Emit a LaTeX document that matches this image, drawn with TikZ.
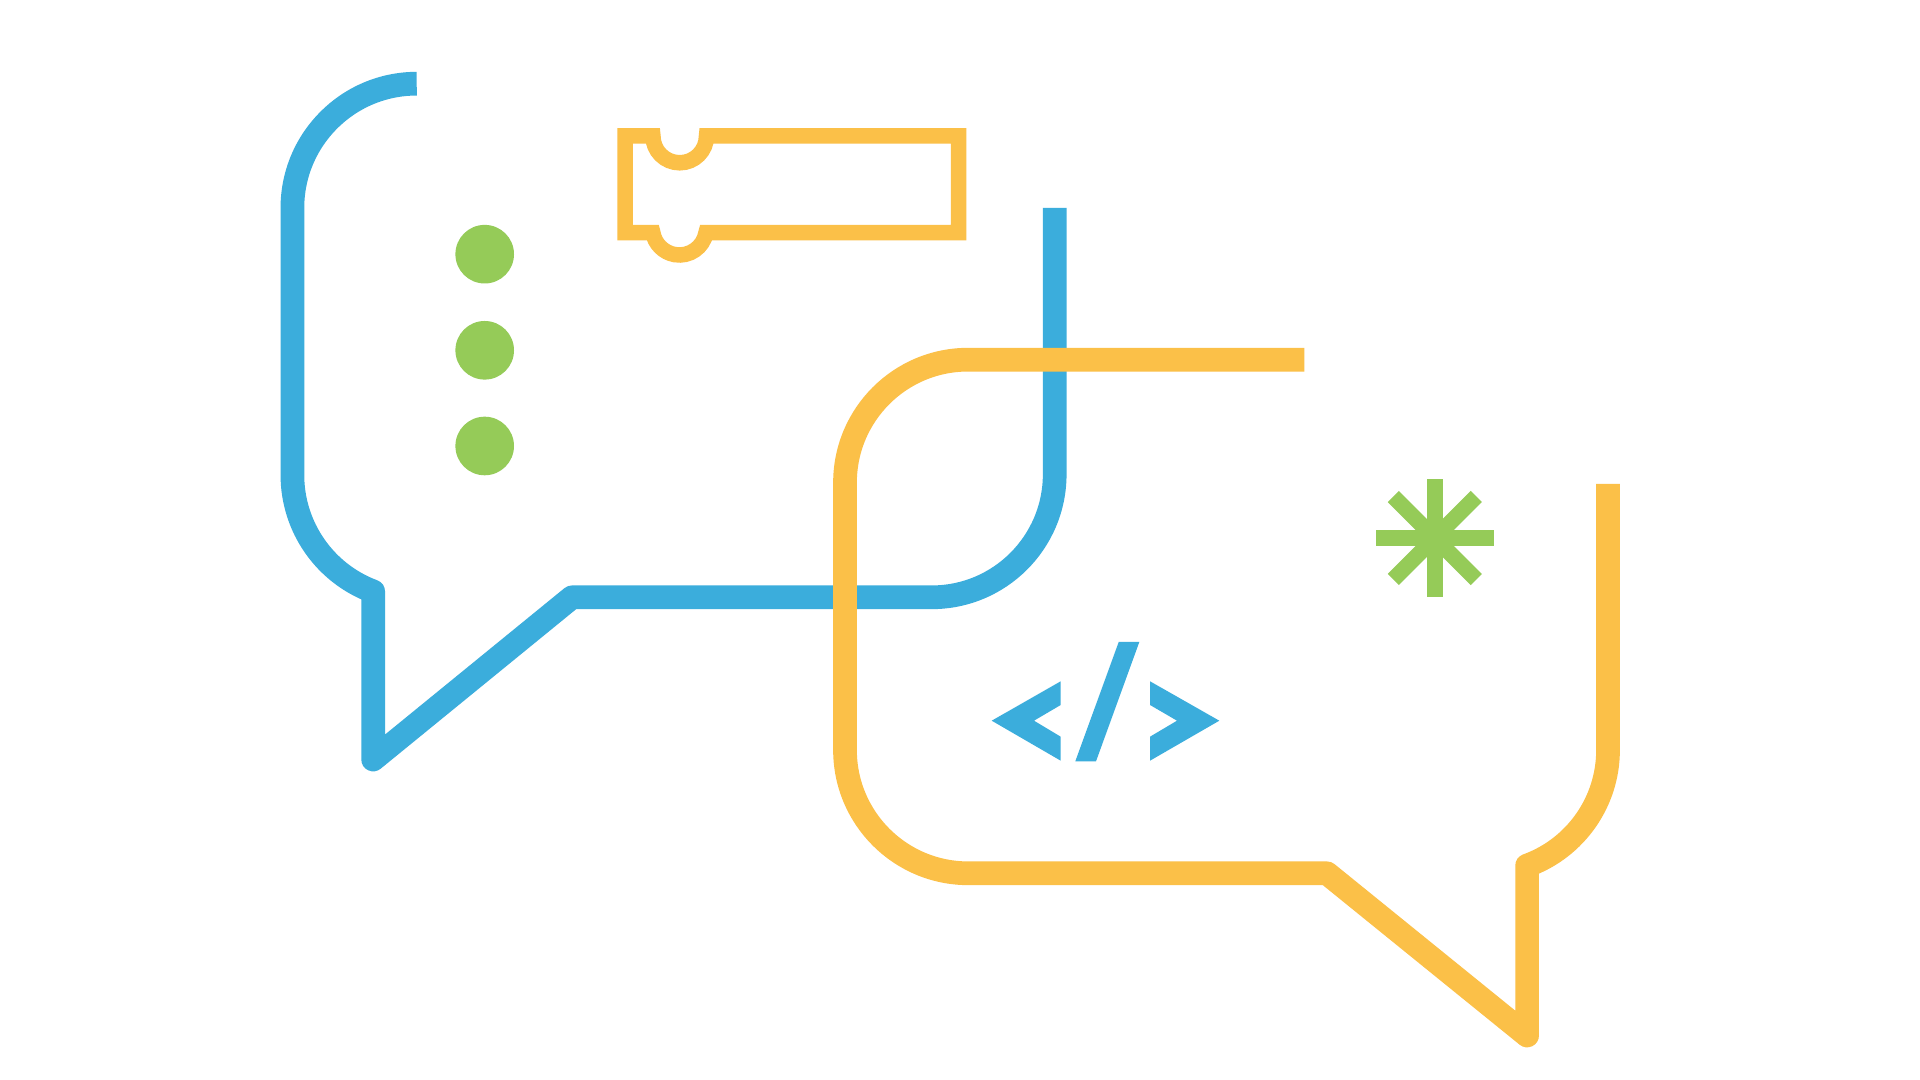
\documentclass[tikz,border=0pt]{standalone}
\definecolor{bubblblue}{RGB}{59, 173, 220}
\definecolor{bubblorange}{RGB}{251, 192, 72}
\definecolor{dotgreen}{RGB}{149, 203, 88}
\usepackage{tikz}
\tikzset{
  bubbleline/.style={line width=2.37mm, line join=round},
}

\begin{document}
\begin{tikzpicture}
  \useasboundingbox (0,0) rectangle (19.2,10.8);
  \fill[white] (0,0) rectangle (19.2,10.8);

  % Blue speech bubble
  \draw[bubbleline, bubblblue] (4.167,9.963) arc[start angle=90, end angle=180, radius=1.243]
    -- (2.924,6.05) arc[start angle=180, end angle=249.5, radius=1.243]
    -- ++(0,-1.681) -- (5.72,4.827) -- (9.317,4.827)
    arc[start angle=270, end angle=360, radius=1.23] -- (10.547,8.72);

  % Orange speech bubble, over the blue one
  \draw[bubbleline, bubblorange] (13.043,7.203) -- (9.68,7.203)
    arc[start angle=90, end angle=180, radius=1.23]
    -- (8.45,3.3) arc[start angle=180, end angle=270, radius=1.233]
    -- (13.27,2.067) -- (15.271,0.445) -- (15.271,2.144)
    arc[start angle=-70, end angle=0, radius=1.23] -- (16.08,5.96);

  % Puzzle block
  \draw[line width=1.55mm, bubblorange] (6.25,9.44) -- (6.529,9.44)
    arc[start angle=180, end angle=360, radius=0.268]
    -- (9.585,9.44) -- (9.585,8.473) -- (7.06,8.473)
    arc[start angle=-10, end angle=-170, radius=0.27]
    -- (6.25,8.473) -- cycle;

  % Three dots
  \foreach \y in {8.258, 7.297, 6.34} {
    \fill[dotgreen] (4.847,\y) circle (0.293);
  }

  % Asterisk
  \foreach \a in {0, 45, 90, 135} {
    \draw[line width=1.57mm, dotgreen] (14.348,5.42) ++(\a:0.587) -- ++(\a+180:1.174);
  }

  % Code sign
  \fill[bubblblue] (9.917,3.593) -- (10.607,3.987) -- (10.607,3.75) -- (10.34,3.593)
    -- (10.607,3.433) -- (10.607,3.193) -- cycle;
  \fill[bubblblue] (11.187,4.38) -- (11.393,4.38) -- (10.96,3.187) -- (10.753,3.187) -- cycle;
  \fill[bubblblue] (12.193,3.593) -- (11.5,3.987) -- (11.5,3.75) -- (11.77,3.593)
    -- (11.5,3.433) -- (11.5,3.193) -- cycle;
\end{tikzpicture}
\end{document}
